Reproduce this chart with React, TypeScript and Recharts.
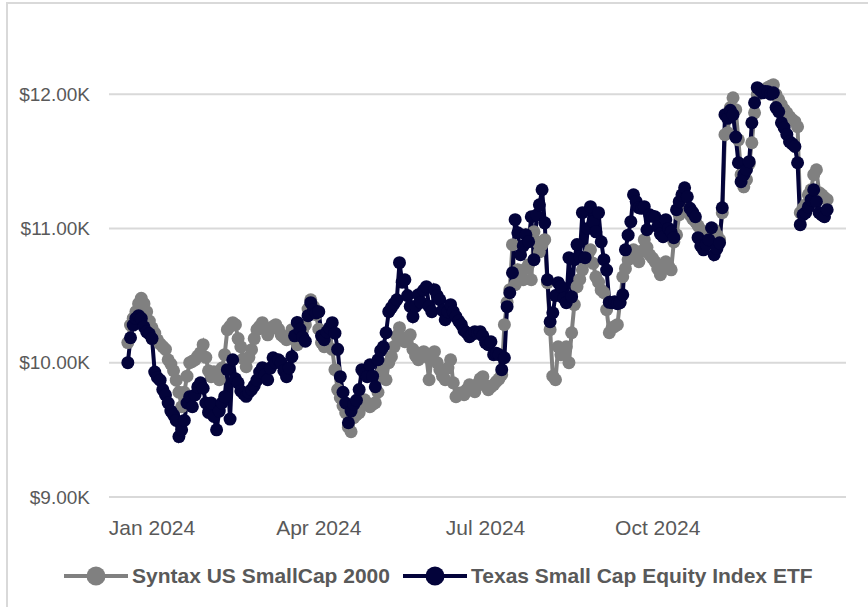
import React from "react";
import { CartesianGrid, Line, LineChart, XAxis, YAxis } from "recharts";

// trading-day index -> value
const syntaxValues = [
  10150, 10280, 10330, 10380, 10440, 10480, 10440, 10380, 10310, 10260,
  10220, 10171, 10140, 10120, 10100, 10022, 9990, 9940, 9870, 9780,
  9672, 9780, 9900, 10000, 10010, 10022, 10050, 10074, 10134, 10040,
  9940, 9896, 9933, 9900, 9873, 9960, 10060, 10246, 10270, 10298,
  10283, 10180, 10119, 10030, 9970, 10040, 10097, 10180, 10246, 10270,
  10298, 10250, 10208, 10250, 10270, 10283, 10250, 10208, 10190, 10171,
  10200, 10246, 10190, 10134, 10200, 10250, 10283, 10400, 10469, 10420,
  10357, 10250, 10150, 10119, 10200, 10246, 10100, 9948, 9800, 9740,
  9680, 9628, 9520, 9486, 9590, 9613, 9628, 9680, 9724, 9700,
  9672, 9690, 9702, 9780, 9920, 9970, 9873, 10000, 10045, 10120,
  10200, 10261, 10180, 10156, 10190, 10208, 10100, 10050, 10022, 10070,
  10082, 10045, 9873, 10060, 10082, 10000, 9948, 9900, 9873, 9960,
  10022, 9850, 9747, 9770, 9777, 9762, 9800, 9836, 9800, 9784,
  9840, 9880, 9896, 9830, 9799, 9820, 9836, 9860, 9880, 9911,
  10283, 10450, 10544, 10879, 10581, 10692, 10640, 10618, 10700, 10730,
  10618, 10975, 10900, 10826, 10880, 10916, 10596, 10246, 9900, 9873,
  10119, 10060, 10100, 10119, 10000, 10223, 10432, 10566, 10620, 10692,
  10760, 10800, 10841, 10740, 10640, 10600, 10540, 10521, 10395, 10223,
  10260, 10270, 10283, 10450, 10640, 10700, 10767, 10800, 10841, 10800,
  10752, 10830, 10916, 10860, 10804, 10780, 10752, 10700, 10655, 10700,
  10752, 10720, 10692, 10900, 10953, 11102, 11160, 11214, 11160, 11102,
  11070, 11050, 11020, 10990, 10900, 10879, 10900, 10950, 10990, 10950,
  10916, 11117, 11698, 11713, 11900, 11973, 11884, 11660, 11400, 11310,
  11363, 11480, 11638, 11861, 11996, 12010, 12020, 12033, 12050, 12060,
  12070, 11996, 11958, 11920, 11884, 11860, 11832, 11810, 11795, 11757,
  11117, 11150, 11176, 11250, 11288, 11400, 11437, 11266, 11251, 11230, 11214,
];

const texasValues = [
  10000, 10186, 10280, 10330, 10350, 10330, 10268, 10230, 10215, 10180,
  9930, 9890, 9870, 9800, 9760, 9700, 9640, 9610, 9570, 9450,
  9500, 9570, 9700, 9747, 9672, 9760, 9820, 9851, 9810, 9700,
  9630, 9700, 9600, 9500, 9640, 9700, 9747, 9948, 9580, 10022,
  9880, 9850, 9790, 9770, 9750, 9780, 9800, 9830, 9870, 9930,
  9963, 9910, 9873, 9960, 10037, 10000, 10022, 10000, 9940, 9896,
  9960, 10045, 10200, 10300, 10250, 10190, 10160, 10350, 10447, 10395,
  10370, 10380, 10200, 10171, 10230, 10260, 10298, 10220, 10100, 9896,
  9780, 9700, 9553, 9640, 9690, 9720, 9800, 9948, 9920, 9896,
  9985, 9900, 9821, 10022, 10090, 10119, 10223, 10380, 10410, 10440,
  10469, 10745, 10600, 10618, 10500, 10420, 10343, 10420, 10506, 10450,
  10540, 10566, 10420, 10380, 10544, 10500, 10469, 10390, 10320, 10380,
  10432, 10380, 10343, 10310, 10283, 10240, 10223, 10194, 10210, 10231,
  10220, 10231, 10200, 10150, 10134, 10156, 10060, 10070, 10060, 9948,
  10037, 10417, 10521, 10670, 11065, 10968, 10804, 10870, 10953, 10901,
  11087, 10767, 11100, 11176, 11288, 11042, 10618, 10305, 10372, 10500,
  10596, 10566, 10480, 10447, 10782, 10491, 10767, 10880, 10789, 11117,
  10782, 11000, 11162, 11050, 10975, 11117, 10900, 10767, 10690, 10450,
  10447, 10454, 10440, 10447, 10506, 10841, 10950, 11050, 11251, 11200,
  11154, 11150, 11162, 10990, 11102, 11090, 11087, 11013, 10960, 10938,
  11065, 11000, 10975, 10931, 11139, 11199, 11250, 11303, 11236, 11150,
  11120, 11087, 10931, 10870, 10841, 10880, 10916, 11005, 10804, 10850,
  10893, 11154, 11847, 11820, 11880, 11847, 11680, 11489, 11348, 11400,
  11437, 11497, 11787, 11936, 12048, 12030, 12010, 12020, 12018, 12000,
  12010, 11900, 11869, 11787, 11750, 11700, 11646, 11630, 11610, 11489,
  11028, 11102, 11117, 11160, 11214, 11288, 11200, 11117, 11100, 11087, 11139,
];

const tickDays = [9, 71, 133, 197];
const tickLabels = ["Jan 2024", "Apr 2024", "Jul 2024", "Oct 2024"];
const yTicks = [9000, 10000, 11000, 12000];
const yDomain = [9000, 12500];

const seriesNames = ["Syntax US SmallCap 2000", "Texas Small Cap Equity Index ETF"];
const GRAY = "#808080";
const NAVY = "#03033a";
const font = "'Liberation Sans', Arial, sans-serif";

const data = texasValues.map((v, i) => ({ day: i, syntax: syntaxValues[i], texas: v }));

// gridlines only at the labelled ticks (no line at the top of the domain)
const gridRows = ({ offset }: any) =>
  yTicks.map((t) => offset.top + ((yDomain[1] - t) / (yDomain[1] - yDomain[0])) * offset.height);

function LegendItem({ color, label, left }: { color: string; label: string; left: number }) {
  return (
    <div style={{ position: "absolute", left, top: 563, display: "flex", alignItems: "center", height: 26 }}>
      <svg width={66} height={26}>
        <line x1={1} y1={13} x2={65} y2={13} stroke={color} strokeWidth={4} />
        <circle cx={33} cy={13} r={9.5} fill={color} />
      </svg>
      <span style={{ fontFamily: font, fontWeight: 700, fontSize: 21, color: "#595959", marginLeft: 3 }}>{label}</span>
    </div>
  );
}

export default function App() {
  return (
    <div style={{ position: "absolute", left: 0, top: 0, width: 868, height: 607, overflow: "hidden", background: "#fff" }}>
      <div style={{ position: "absolute", left: 6, top: 2, width: 1000, height: 1000, border: "2px solid #d9d9d9" }} />
      <div style={{ position: "absolute", left: 0, top: 0 }}>
        <LineChart width={868} height={607} data={data} margin={{ top: 27, right: 22, bottom: 70, left: 0 }}>
          <CartesianGrid vertical={false} stroke="#d9d9d9" strokeWidth={2} horizontalCoordinatesGenerator={gridRows} />
          <XAxis
            type="number"
            dataKey="day"
            domain={[-7, 267]}
            ticks={tickDays}
            interval={0}
            tickFormatter={(d) => tickLabels[tickDays.indexOf(d)]}
            axisLine={false}
            tickLine={false}
            height={40}
            tickMargin={17}
            tick={{ fill: "#595959", fontSize: 21, fontFamily: font }}
          />
          <YAxis
            domain={yDomain}
            ticks={yTicks}
            interval={0}
            width={109}
            axisLine={false}
            tickLine={false}
            tickMargin={13}
            tickFormatter={(v) => `$${(v / 1000).toFixed(2)}K`}
            tick={{ fill: "#595959", fontSize: 19, fontFamily: font }}
          />
          <Line
            type="linear"
            dataKey="syntax"
            stroke={GRAY}
            strokeWidth={4}
            dot={{ r: 6.5, fill: GRAY, stroke: "none" }}
            isAnimationActive={false}
          />
          <Line
            type="linear"
            dataKey="texas"
            stroke={NAVY}
            strokeWidth={4}
            dot={{ r: 6.5, fill: NAVY, stroke: "none" }}
            isAnimationActive={false}
          />
        </LineChart>
      </div>
      <LegendItem color={GRAY} label={seriesNames[0]} left={63} />
      <LegendItem color={NAVY} label={seriesNames[1]} left={402} />
    </div>
  );
}
